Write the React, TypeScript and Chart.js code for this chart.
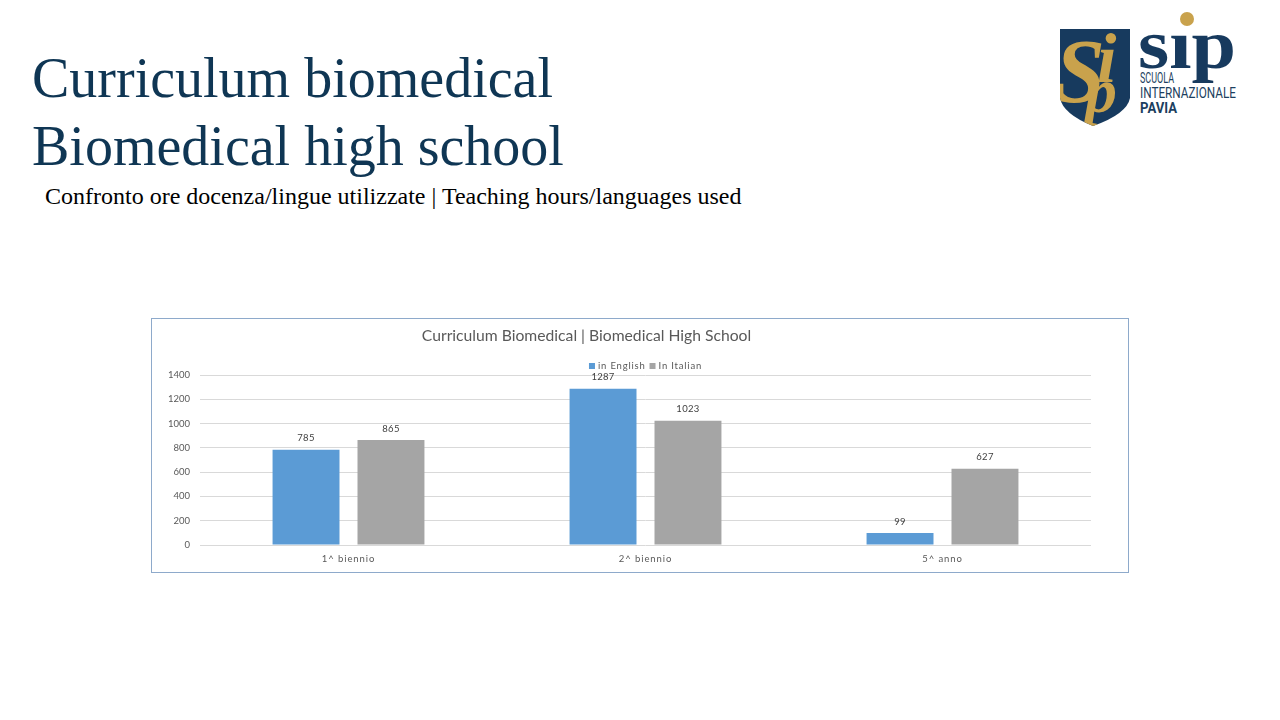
import React, { useEffect, useRef } from "react";
import { Chart, registerables } from "chart.js";

Chart.register(...registerables);

const categories = ["1^ biennio", "2^ biennio", "5^ anno"];
const seriesNames = ["in English", "In Italian"];
const englishHours = [785, 1287, 99];
const italianHours = [865, 1023, 627];
const yTicks = [0, 200, 400, 600, 800, 1000, 1200, 1400];
const chartTitle = "Curriculum Biomedical | Biomedical High School";

const BLUE = "#5b9bd5";
const GRAY = "#a5a5a5";
const TEXT = "#595959";
const FONT = "Lato, 'Open Sans', sans-serif";
const NAVY = "#0f3654";
const GOLD = "#c9a24c";

const titlePlugin = {
  id: "customTitle",
  afterDraw(chart: any) {
    const ctx = chart.ctx;
    ctx.save();
    ctx.font = `15.7px ${FONT}`;
    ctx.fillStyle = TEXT;
    ctx.textAlign = "center";
    ctx.textBaseline = "middle";
    const cx = (chart.chartArea.left + chart.chartArea.right) / 2 - 59;
    ctx.fillText(chartTitle, cx, 17);
    ctx.restore();
  },
};

const xLabelPlugin = {
  id: "xLabels",
  afterDraw(chart: any) {
    const ctx = chart.ctx;
    const xs = chart.scales.x;
    ctx.save();
    (ctx as any).letterSpacing = "0.9px";
    ctx.font = `9.5px ${FONT}`;
    ctx.fillStyle = TEXT;
    ctx.textAlign = "center";
    ctx.textBaseline = "middle";
    categories.forEach((c, i) => {
      ctx.fillText(c, xs.getPixelForValue(i), chart.chartArea.bottom + 14);
    });
    ctx.restore();
  },
};

const legendPlugin = {
  id: "customLegend",
  afterDraw(chart: any) {
    const ctx = chart.ctx;
    ctx.save();
    ctx.font = `9.5px ${FONT}`;
    (ctx as any).letterSpacing = "0.8px";
    ctx.textBaseline = "middle";
    ctx.textAlign = "left";
    const box = 6;
    const gap = 3;
    const itemGap = 4;
    const widths = seriesNames.map((n) => ctx.measureText(n).width);
    const total = widths.reduce((a, w) => a + box + gap + w, 0) + itemGap * (seriesNames.length - 1);
    let x = (chart.chartArea.left + chart.chartArea.right) / 2 - total / 2;
    const y = 47;
    const colors = [BLUE, GRAY];
    seriesNames.forEach((n, i) => {
      ctx.fillStyle = colors[i];
      ctx.fillRect(x, y - box / 2, box, box);
      x += box + gap;
      ctx.fillStyle = TEXT;
      ctx.fillText(n, x, y);
      x += widths[i] + itemGap;
    });
    ctx.restore();
  },
};

const valueLabelPlugin = {
  id: "valueLabels",
  afterDatasetsDraw(chart: any) {
    const ctx = chart.ctx;
    ctx.save();
    (ctx as any).letterSpacing = "0.3px";
    ctx.font = `9.5px ${FONT}`;
    ctx.fillStyle = "#404040";
    ctx.textAlign = "center";
    ctx.textBaseline = "middle";
    chart.data.datasets.forEach((ds: any, di: number) => {
      const meta = chart.getDatasetMeta(di);
      meta.data.forEach((el: any, i: number) => {
        ctx.fillText(String(ds.data[i]), el.x, el.y - 11.5);
      });
    });
    ctx.restore();
  },
};

function BarChart() {
  const ref = useRef<HTMLCanvasElement | null>(null);
  useEffect(() => {
    if (!ref.current) return;
    const chart = new Chart(ref.current, {
      type: "bar",
      data: {
        labels: categories,
        datasets: [
          {
            label: seriesNames[0],
            data: englishHours,
            backgroundColor: BLUE,
            barPercentage: 0.788,
            categoryPercentage: 0.572,
          },
          {
            label: seriesNames[1],
            data: italianHours,
            backgroundColor: GRAY,
            barPercentage: 0.788,
            categoryPercentage: 0.572,
          },
        ],
      },
      options: {
        animation: false,
        responsive: false,
        maintainAspectRatio: false,
        layout: { padding: { top: 56, right: 37, left: 0, bottom: 0 } },
        plugins: {
          legend: { display: false },
          title: { display: false },
          tooltip: { enabled: false },
        },
        scales: {
          x: {
            grid: { display: false, drawTicks: false },
            border: { display: false },
            ticks: { display: false },
            afterFit: (s: any) => {
              s.height = 27;
            },
          },
          y: {
            min: 0,
            max: yTicks[yTicks.length - 1],
            afterBuildTicks: (s: any) => {
              s.ticks = yTicks.map((v) => ({ value: v }));
            },
            grid: { color: "#d9d9d9", drawTicks: false },
            border: { display: false },
            ticks: {
              color: TEXT,
              font: { size: 9.5, family: FONT },
              padding: 10,
              callback: (v: any) => String(v),
            },
            afterFit: (s: any) => {
              s.width = 48;
            },
          },
        },
      },
      plugins: [titlePlugin, xLabelPlugin, legendPlugin, valueLabelPlugin],
    });
    return () => chart.destroy();
  }, []);
  return <canvas ref={ref} width={976} height={253} style={{ display: "block" }} />;
}

function Logo() {
  return (
    <svg
      width={195}
      height={125}
      viewBox="0 0 195 125"
      style={{ position: "absolute", left: 1055, top: 8 }}
    >
      <defs>
        <clipPath id="shieldClip">
          <path d="M5 21 L75 21 L75 90 Q72 106 38 118 Q8 106 5 90 Z" />
        </clipPath>
      </defs>
      <path d="M5 21 L75 21 L75 90 Q72 106 38 118 Q8 106 5 90 Z" fill="#173a5e" />
      <g clipPath="url(#shieldClip)" fill={GOLD} fontFamily="'Liberation Serif', serif" fontStyle="italic">
        <text x={0} y={94} fontSize={90} fontWeight="bold">S</text>
        <text x={42} y={74} fontSize={70} fontWeight="bold">i</text>
        <text x={30} y={104} fontSize={64} fontWeight="bold">p</text>
      </g>
      <circle cx={132} cy={11} r={7} fill={GOLD} />
      <text
        x={83}
        y={60}
        fontFamily="'Liberation Serif', serif"
        fontWeight="bold"
        fontSize={70}
        fill="#173a5e"
        textLength={98}
        lengthAdjust="spacingAndGlyphs"
      >
        sıp
      </text>
      <text x={85} y={75} fontFamily="Roboto, sans-serif" fontSize={14} fill="#1c3f60" textLength={34} lengthAdjust="spacingAndGlyphs">
        SCUOLA
      </text>
      <text x={85} y={90} fontFamily="Roboto, sans-serif" fontSize={14} fill="#1c3f60" textLength={96} lengthAdjust="spacingAndGlyphs">
        INTERNAZIONALE
      </text>
      <text x={85} y={105} fontFamily="Roboto, sans-serif" fontWeight="bold" fontSize={14} fill="#1c3f60" textLength={37} lengthAdjust="spacingAndGlyphs">
        PAVIA
      </text>
    </svg>
  );
}

export default function App() {
  return (
    <div style={{ position: "absolute", left: 0, top: 0, width: 1280, height: 720, background: "#fff", overflow: "hidden" }}>
      <svg width={1280} height={230} style={{ position: "absolute", left: 0, top: 0 }}>
        <text x={32} y={97} fontFamily="'Liberation Serif', 'Times New Roman', serif" fontSize={56} fill={NAVY}>
          Curriculum biomedical
        </text>
        <text x={32} y={165} fontFamily="'Liberation Serif', 'Times New Roman', serif" fontSize={56} fill={NAVY}>
          Biomedical high school
        </text>
        <text x={45} y={204} fontFamily="'Liberation Serif', 'Times New Roman', serif" fontSize={24} fill="#000">
          Confronto ore docenza/lingue utilizzate | Teaching hours/languages used
        </text>
      </svg>
      <Logo />
      <div
        style={{
          position: "absolute",
          left: 151,
          top: 318,
          width: 978,
          height: 255,
          border: "1px solid #8eaacb",
          boxSizing: "border-box",
          background: "#fff",
        }}
      >
        <BarChart />
      </div>
    </div>
  );
}
